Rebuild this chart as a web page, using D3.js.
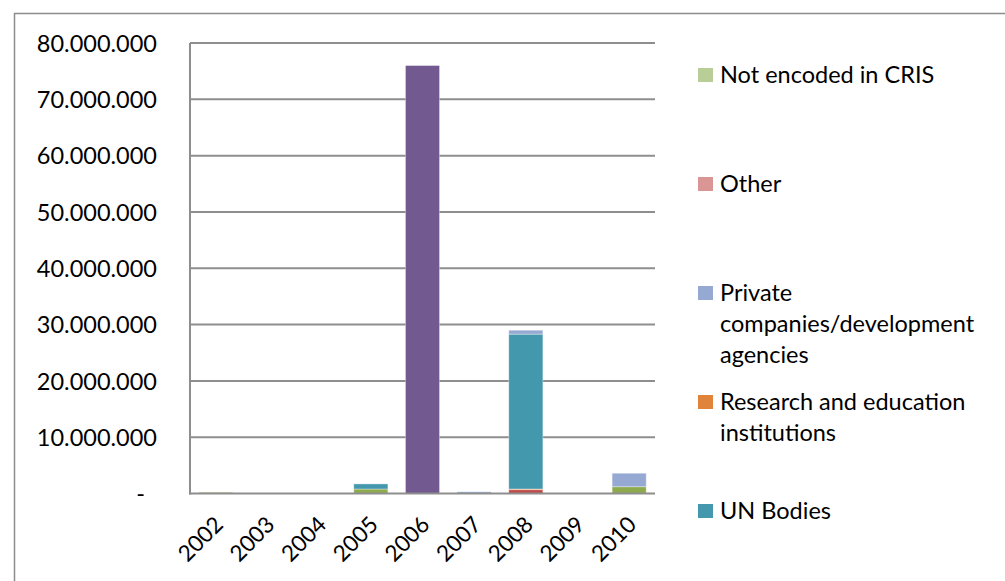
<!DOCTYPE html>
<html><head><meta charset="utf-8">
<script src="https://cdn.jsdelivr.net/npm/d3@7"></script>
<style>body{margin:0;background:#fff}svg text{font-family:Lato,"Open Sans",sans-serif}</style>
</head><body><svg id="c" width="1005" height="581"></svg>
<script>
const years = ["2002","2003","2004","2005","2006","2007","2008","2009","2010"];
// series in stacking order (bottom to top)
const seriesNames = ["Series red","Series green","Series purple","Research and education institutions","UN Bodies","Private companies/development agencies","Other","Not encoded in CRIS"];
const seriesColors = ["#BE4B48","#8EAA4E","#725990","#E0843B","#4398AE","#95A9D2","#D99694","#B9CD96"];
const sRed      = [0,0,0,0,0,0,700000,0,0];
const sGreen    = [0,0,0,800000,0,0,0,0,1200000];
const sPurple   = [0,0,0,0,76000000,0,0,0,0];
const sResearch = [0,0,0,0,0,0,100000,0,0];
const sUN       = [0,0,0,900000,0,0,27500000,0,0];
const sPrivate  = [0,0,0,0,0,300000,700000,0,2400000];
const sOther    = [0,0,0,0,0,0,0,0,0];
const sNotEnc   = [250000,0,0,0,0,0,0,0,0];
const seriesValues = [sRed,sGreen,sPurple,sResearch,sUN,sPrivate,sOther,sNotEnc];
const yTicks = [0,10000000,20000000,30000000,40000000,50000000,60000000,70000000,80000000];
const legendItems = ["Not encoded in CRIS","Other","Private companies/development agencies","Research and education institutions","UN Bodies"];
const legendLines = [["Not encoded in CRIS"],["Other"],["Private","companies/development","agencies"],["Research and education","institutions"],["UN Bodies"]];

const FS = 23.5;
const svg = d3.select("#c");
svg.append("rect").attr("x",14.5).attr("y",13.5).attr("width",1000).attr("height",600)
  .attr("fill","#fff").attr("stroke","#8c8c8c").attr("stroke-width",1.5);

const L=190, R=655, T=43, B=493.5;
const x = d3.scaleBand().domain(years).range([L,R]).paddingInner(0.34).paddingOuter(0.17);
const y = d3.scaleLinear().domain([0,80000000]).range([B,T]);

// gridlines
svg.append("g").selectAll("line").data(yTicks.filter(d=>d>0)).join("line")
  .attr("x1",L).attr("x2",R).attr("y1",d=>y(d)).attr("y2",d=>y(d))
  .attr("stroke","#8e8e8e").attr("stroke-width",2);

const fmt = d => d===0 ? "-" : d3.format(",")(d).replace(/,/g,".");
const yAxis = svg.append("g").attr("transform",`translate(${L},0)`)
  .call(d3.axisLeft(y).tickValues(yTicks).tickFormat(fmt).tickSize(0).tickPadding(33));
yAxis.select(".domain").remove();
yAxis.selectAll("text").attr("font-size",FS).attr("fill","#000").attr("dy","0.35em");
yAxis.selectAll(".tick").filter(d=>d===0).select("text").attr("dx",-12);

// stacked data
const table = years.map((yr,i)=>{const o={year:yr};seriesNames.forEach((s,j)=>o[s]=seriesValues[j][i]);return o;});
const stacked = d3.stack().keys(seriesNames)(table);
svg.append("g").selectAll("g").data(stacked).join("g")
  .attr("fill",(d,i)=>seriesColors[i])
  .selectAll("rect").data(d=>d.filter(p=>p[1]-p[0]>0)).join("rect")
  .attr("x",d=>x(d.data.year)).attr("width",x.bandwidth())
  .attr("y",d=>y(d[1])).attr("height",d=>Math.max(0.8,y(d[0])-y(d[1])))
  .attr("stroke","rgba(255,255,255,0.45)").attr("stroke-width",0.8);

// axes lines
svg.append("line").attr("x1",L).attr("x2",L).attr("y1",T).attr("y2",B+1).attr("stroke","#8e8e8e").attr("stroke-width",2);
svg.append("line").attr("x1",L-1).attr("x2",R).attr("y1",B).attr("y2",B).attr("stroke","#8e8e8e").attr("stroke-width",2);

// x labels
svg.append("g").selectAll("text").data(years).join("text")
  .attr("transform",d=>`translate(${x(d)+x.bandwidth()/2+3},${B+27}) rotate(-45)`)
  .attr("text-anchor","end").attr("dy","0.35em").attr("font-size",22.5).attr("fill","#000").text(d=>d);

// legend
const legendY = [75,184,293,402,511];
const lg = svg.append("g");
legendItems.forEach((name,i)=>{
  const c = seriesColors[seriesNames.indexOf(name)];
  lg.append("rect").attr("x",698).attr("y",legendY[i]-7).attr("width",15).attr("height",14).attr("fill",c);
  legendLines[i].forEach((ln,k)=>{
    lg.append("text").attr("x",720).attr("y",legendY[i]+k*31).attr("dy","0.35em")
      .attr("font-size",FS).attr("fill","#000").text(ln);
  });
});
</script></body></html>
